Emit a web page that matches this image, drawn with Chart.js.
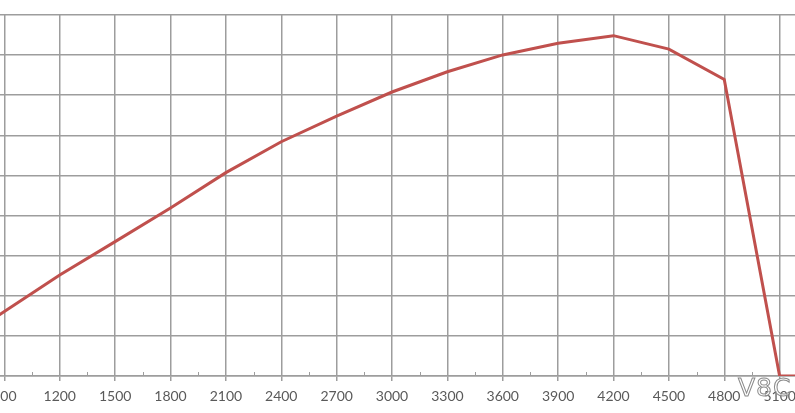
<!DOCTYPE html>
<html>
<head>
<meta charset="utf-8">
<script src="https://cdn.jsdelivr.net/npm/chart.js@4"></script>
<style>
  html, body { margin: 0; padding: 0; background: #fff; overflow: hidden; }
  #wrap { position: relative; width: 795px; height: 413px; overflow: hidden; }
  #box { position: absolute; left: -81px; top: 0; width: 946px; height: 413px; }
  #mark {
    position: absolute; left: 738px; top: 373px;
    font-family: 'DejaVu Sans', sans-serif; font-size: 25px; letter-spacing: 1px;
    color: rgba(255,255,255,0.6); -webkit-text-stroke: 1px #8a8a8a;
  }
</style>
</head>
<body>
<div id="wrap">
  <div id="box"><canvas id="rpmPlot"></canvas></div>
  <div id="mark">V8C</div>
</div>
<script>
// engine speed (rpm) and the curve
const rpm = [600, 900, 1200, 1500, 1800, 2100, 2400, 2700, 3000, 3300, 3600, 3900, 4200, 4500, 4800, 5100, 5400];
const power = [14, 32.2, 50.4, 67.0, 83.8, 101.4, 116.8, 129.6, 141.6, 151.7, 160.1, 165.9, 169.7, 163.0, 147.9, 0, 0];

const gridGray = '#9d9d9d';

// small ticks half way between the labelled ones, just above the axis
const minorTicks = {
    id: 'minorTicks',
    afterDatasetsDraw(chart) {
        const x = chart.scales.x;
        const ctx = chart.ctx;
        const bottom = chart.chartArea.bottom;
        ctx.save();
        ctx.strokeStyle = gridGray;
        ctx.lineWidth = 1;
        for (let i = 0; i < rpm.length - 1; i++) {
            const px = Math.round(x.getPixelForValue((rpm[i] + rpm[i + 1]) / 2)) + 0.5;
            ctx.beginPath();
            ctx.moveTo(px, bottom - 4);
            ctx.lineTo(px, bottom);
            ctx.stroke();
        }
        ctx.restore();
    }
};

const rpmChart = new Chart(document.getElementById('rpmPlot'), {
    type: 'line',
    data: {
        datasets: [
            {
                data: rpm.map((r, i) => ({ x: r, y: power[i] })),
                borderColor: '#c0504d', // Excel red
                borderWidth: 3,
                pointRadius: 0,
                fill: false,
                tension: 0
            }
        ]
    },
    options: {
        responsive: true,
        maintainAspectRatio: false,
        animation: false,
        layout: { padding: { left: 30, right: 30, top: 15, bottom: 0 } },
        plugins: { legend: { display: false }, tooltip: { enabled: false } },
        scales: {
            x: {
                type: 'linear',
                min: 600,
                max: 5400,
                afterFit: s => { s.height = 37; },
                afterBuildTicks: s => { s.ticks = rpm.map(v => ({ value: v })); },
                ticks: {
                    autoSkip: false,
                    maxRotation: 0,
                    padding: 7,
                    color: '#5a5a5a',
                    font: { family: 'Lato', size: 14 },
                    callback: v => String(v)
                },
                grid: { color: gridGray, lineWidth: 1.5, tickLength: 5 },
                border: { color: gridGray, width: 1.5 }
            },
            y: {
                min: 0,
                max: 180,
                afterFit: s => { s.width = 0; },
                ticks: { display: false, stepSize: 20 },
                grid: { color: gridGray, lineWidth: 1.5, drawTicks: false },
                border: { display: false }
            }
        }
    },
    plugins: [minorTicks]
});
</script>
</body>
</html>
